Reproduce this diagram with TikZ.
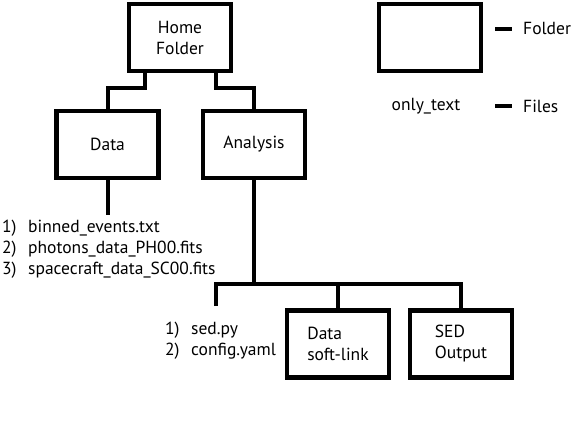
\documentclass[tikz,border=0pt]{standalone}
\usepackage{fontspec}
\setmainfont{PT Sans}
\newcommand{\numitem}[2]{\makebox[26pt][l]{#1}#2}
\begin{document}
\begin{tikzpicture}[x=1pt,y=-1pt,
  folder/.style={draw,line width=4.5pt,minimum width=102pt,minimum height=67pt,inner sep=0pt,align=left,font=\fontsize{17.5}{21}\selectfont},
  conn/.style={line width=4pt},
  txt/.style={inner sep=0pt,anchor=west,font=\fontsize{17.5}{21}\selectfont},
  legtxt/.style={inner sep=0pt,font=\fontsize{17.5}{21}\selectfont}]
\useasboundingbox (0,0) rectangle (571,426);
\node[folder,align=center] (home) at (180,37.5) {Home\\Folder};
\node[folder] (data) at (107.5,144.5) {Data};
\node[folder] (ana) at (254,144.5) {Analysis};
\node[folder] (soft) at (338,344) {Data\\soft-link};
\node[folder] (sed) at (461,344) {SED\\Output};
\node[folder] (leg) at (430,37.5) {};
% connectors
\coordinate (h1) at (145,88);
\coordinate (h2) at (216,88);
\draw[conn] (home.south -| h1) |- (h1) -| (data.north);
\draw[conn] (home.south -| h2) |- (h2) -| (ana.north);
\coordinate (dend) at (107.5,215);
\draw[conn] (data.south) -- (dend);
\coordinate (abus) at (254,284);
\coordinate (aleft) at (216,306);
\draw[conn] (ana.south) -- (abus);
\draw[conn] (aleft) |- (abus -| sed.north) -- (sed.north);
\draw[conn] (abus -| soft.north) -- (soft.north);
% file lists
\node[txt] (d1) at (2,228) {\numitem{1)}{binned\_events.txt}};
\node[txt] (d2) at (2,249) {\numitem{2)}{photons\_data\_PH00.fits}};
\node[txt] (d3) at (2,270) {\numitem{3)}{spacecraft\_data\_SC00.fits}};
\node[txt] (s1) at (165,330) {\numitem{1)}{sed.py}};
\node[txt] (s2) at (165,351) {\numitem{2)}{config.yaml}};
% legend
\node[legtxt] (ot) at (426,106) {only\_text};
\coordinate (l1a) at (495,29);
\coordinate (l1b) at (512,29);
\draw[conn] (l1a) -- (l1b);
\coordinate (l2a) at (495,106);
\coordinate (l2b) at (512,106);
\draw[conn] (l2a) -- (l2b);
\node[txt] (lf) at (523,28) {Folder};
\node[txt] (lfi) at (523,106) {Files};
\end{tikzpicture}
\end{document}
